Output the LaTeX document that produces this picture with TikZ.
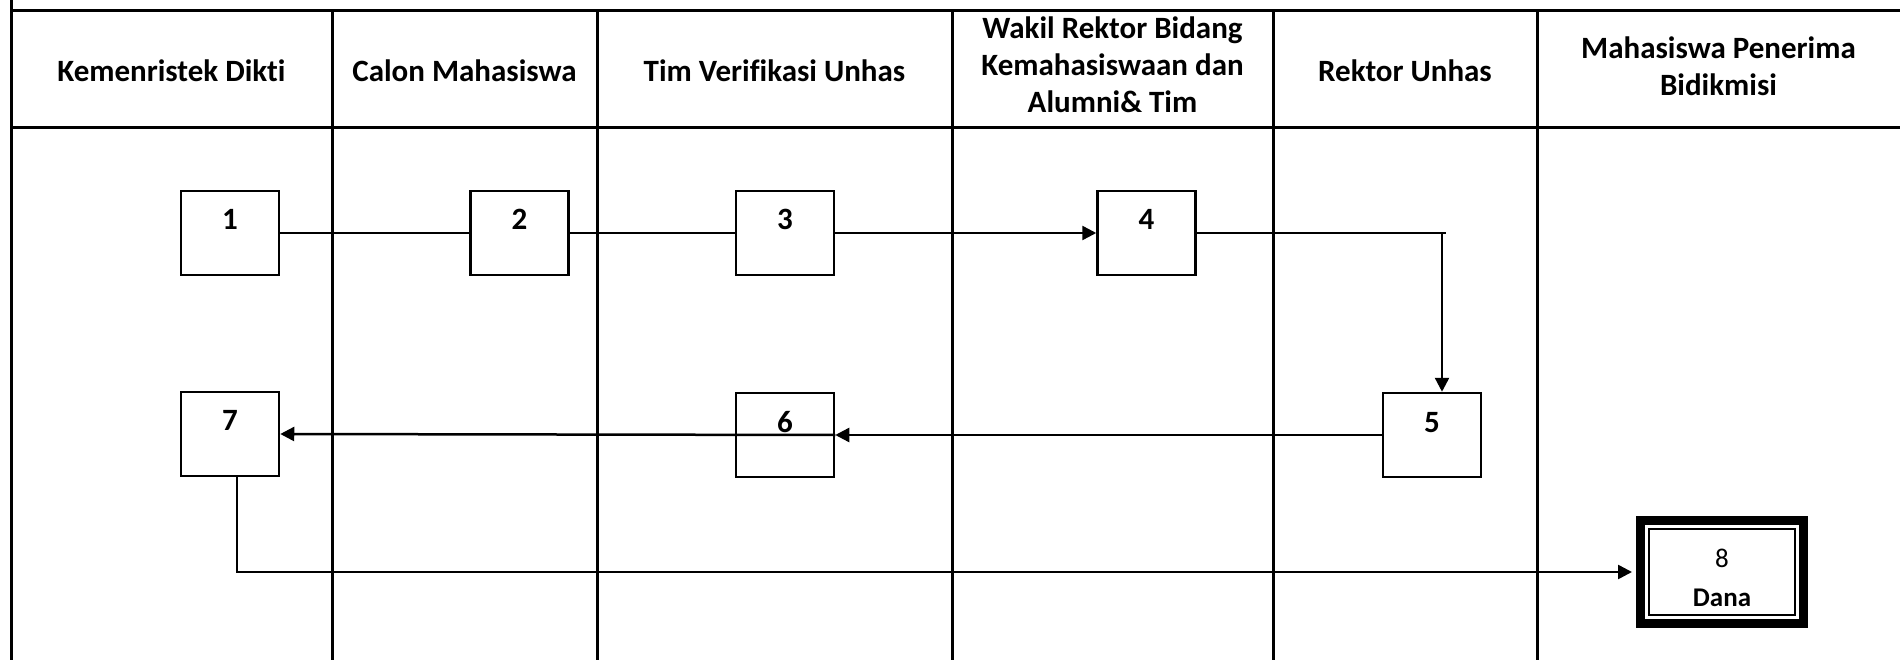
\documentclass[tikz,border=0pt]{standalone}
\usepackage{fontspec}
\setmainfont{Carlito}[Ligatures=NoCommon]
\usetikzlibrary{arrows.meta}
\begin{document}
\begin{tikzpicture}[x=1pt,y=-1pt,
  grid/.style={line width=3pt},
  hdr/.style={font=\fontsize{31}{37}\selectfont\bfseries, align=center, inner sep=0pt},
  box/.style={draw, line width=2.5pt, minimum width=98pt, minimum height=84pt, inner sep=0pt},
  num/.style={font=\fontsize{31}{36}\selectfont\bfseries, inner sep=0pt},
  small/.style={font=\fontsize{27}{32}\selectfont, inner sep=0pt},
  conn/.style={line width=2.5pt},
  arr/.style={conn, -{Triangle[length=14pt,width=14pt]}}
]
\useasboundingbox (0,0) rectangle (1900,660);
% table
\draw[grid] (11,0) -- (11,660);
\draw[grid] (11,11) -- (1900,11);
\draw[grid] (11,128) -- (1900,128);
\foreach \x in {332,597,952,1273,1537} \draw[grid] (\x,11) -- (\x,660);
% headers
\node[hdr] (h1) at (171.5,71) {Kemenristek Dikti};
\node[hdr] (h2) at (464.5,71) {Calon Mahasiswa};
\node[hdr] (h3) at (774.5,71) {Tim Verifikasi Unhas};
\node[hdr] (h4) at (1112.5,65) {Wakil Rektor Bidang\\Kemahasiswaan dan\\Alumni\& Tim};
\node[hdr] (h5) at (1405,71) {Rektor Unhas};
\node[hdr] (h6) at (1718.5,66) {Mahasiswa Penerima\\Bidikmisi};
% boxes
\node[box] (b1) at (230,233) {};
\node[box] (b2) at (519.5,233) {};
\node[box] (b3) at (785,233) {};
\node[box] (b4) at (1146.5,233) {};
\node[box] (b5) at (1432,435) {};
\node[box] (b6) at (785,435) {};
\node[box] (b7) at (230,434) {};
\node[num] (l1) at ([yshift=-30pt]b1.north) {1};
\node[num] (l2) at ([yshift=-30pt]b2.north) {2};
\node[num] (l3) at ([yshift=-30pt]b3.north) {3};
\node[num] (l4) at ([yshift=-30pt]b4.north) {4};
\node[num] (l5) at ([yshift=-31pt]b5.north) {5};
\node[num] (l6) at ([yshift=-30pt]b6.north) {6};
\node[num] (l7) at ([yshift=-30pt]b7.north) {7};
% box 8
\node[draw, line width=9pt, minimum width=163pt, minimum height=103pt, inner sep=0pt] (b8) at (1722,572) {};
\draw[line width=2.5pt] ([xshift=13pt,yshift=-13pt]b8.north west) rectangle ([xshift=-13pt,yshift=13pt]b8.south east);
\node[small] (l8) at (1722,558) {8};
\node[small, font=\fontsize{27}{32}\selectfont\bfseries] (d8) at (1722,598) {Dana};
% connectors
\draw[conn] (b1.east) -- (b2.west);
\draw[conn] (b2.east) -- (b3.west);
\draw[arr] (b3.east) -- (b4.west);
\coordinate (c45) at (1442,233);
\draw[conn] (b4.east) -- ([xshift=4pt]c45);
\draw[arr] (c45) -- (c45 |- b5.north);
\draw[arr] (b5.west) -- (b6.east);
\draw[arr] (b6.east) -- (b7.east);
\draw[arr, shorten >=4pt] ([xshift=7pt]b7.south) |- (b8.west);
\end{tikzpicture}
\end{document}
